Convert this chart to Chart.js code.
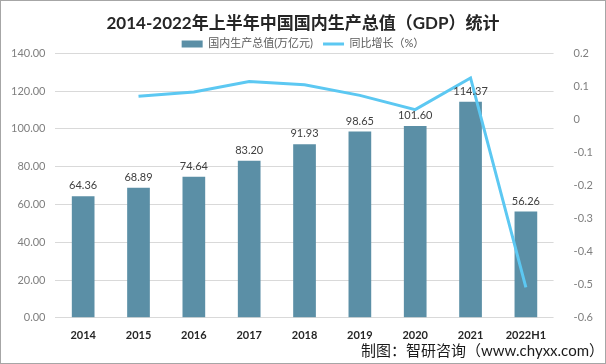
<!DOCTYPE html>
<html>
<head>
<meta charset="utf-8">
<script src="https://cdn.jsdelivr.net/npm/chart.js@4/dist/chart.umd.min.js"></script>
<style>
  html, body { margin: 0; padding: 0; background: #fff; }
  #wrap { position: relative; width: 606px; height: 364px; box-sizing: border-box; border: 1px solid #a6a6a6; }
  #chart { display: block; }
  #source { position: absolute; right: 1px; bottom: 3px; font: 15px Lato, "Noto Sans CJK SC", sans-serif; color: #1a1a1a; }
</style>
</head>
<body>
<div id="wrap">
  <canvas id="chart" width="604" height="362"></canvas>
  <div id="source">制图：智研咨询（www.chyxx.com）</div>
</div>
<script>
const years = ['2014', '2015', '2016', '2017', '2018', '2019', '2020', '2021', '2022H1'];
const gdp = [64.36, 68.89, 74.64, 83.20, 91.93, 98.65, 101.60, 114.37, 56.26];
const growth = [null, 0.0704, 0.0835, 0.1147, 0.1049, 0.0731, 0.0299, 0.1257, -0.5081];

const FONT = "Lato, 'Noto Sans CJK SC', sans-serif";

// value labels above the bars
const barLabels = {
    id: 'barLabels',
    afterDatasetsDraw(chart) {
        const ctx = chart.ctx;
        const meta = chart.getDatasetMeta(0);
        ctx.save();
        ctx.font = '11px ' + FONT;
        ctx.fillStyle = '#404040';
        ctx.textAlign = 'center';
        ctx.textBaseline = 'bottom';
        meta.data.forEach((bar, i) => {
            ctx.fillText(gdp[i].toFixed(2), bar.x, bar.y - 5);
        });
        ctx.restore();
    }
};

new Chart(document.getElementById('chart'), {
    data: {
        labels: years,
        datasets: [{
            type: 'bar',
            label: '国内生产总值(万亿元)',
            data: gdp,
            backgroundColor: '#5b8fa6',
            categoryPercentage: 1,
            barPercentage: 0.41,
            yAxisID: 'y',
            order: 2,
            pointStyle: 'rect'
        }, {
            type: 'line',
            label: '同比增长（%）',
            data: growth,
            borderColor: '#5cc8f2',
            backgroundColor: '#5cc8f2',
            borderWidth: 3,
            pointRadius: 0,
            tension: 0,
            yAxisID: 'y1',
            order: 1,
            pointStyle: 'line'
        }]
    },
    options: {
        responsive: false,
        animation: false,
        layout: { padding: { left: 0, right: 0, top: 8, bottom: 18 } },
        plugins: {
            title: {
                display: true,
                text: '2014-2022年上半年中国国内生产总值（GDP）统计',
                color: '#262626',
                font: { family: FONT, size: 17, weight: 'bold' },
                padding: { top: 4, bottom: -5 }
            },
            legend: {
                maxHeight: 25,
                labels: {
                    usePointStyle: true,
                    pointStyleWidth: 21,
                    boxHeight: 7,
                    color: '#595959',
                    font: { family: FONT, size: 11 },
                    padding: 10,
                    sort: (a, b) => a.datasetIndex - b.datasetIndex
                }
            },
            tooltip: { enabled: false }
        },
        scales: {
            x: {
                grid: { display: false },
                border: { display: false },
                ticks: { color: '#262626', font: { family: FONT, size: 11, weight: 'bold' } }
            },
            y: {
                position: 'left',
                min: 0,
                max: 140,
                ticks: {
                    stepSize: 20,
                    color: '#7f7f7f',
                    font: { family: FONT, size: 11 },
                    padding: 10,
                    callback: v => v.toFixed(2)
                },
                grid: { color: '#d9d9d9', drawTicks: false },
                border: { display: false }
            },
            y1: {
                position: 'right',
                min: -0.6,
                max: 0.2,
                ticks: {
                    stepSize: 0.1,
                    color: '#7f7f7f',
                    font: { family: FONT, size: 11 },
                    padding: 12,
                    callback: v => String(Math.round(v * 10) / 10)
                },
                grid: { display: false },
                border: { display: false }
            }
        }
    },
    plugins: [barLabels]
});
</script>
</body>
</html>
